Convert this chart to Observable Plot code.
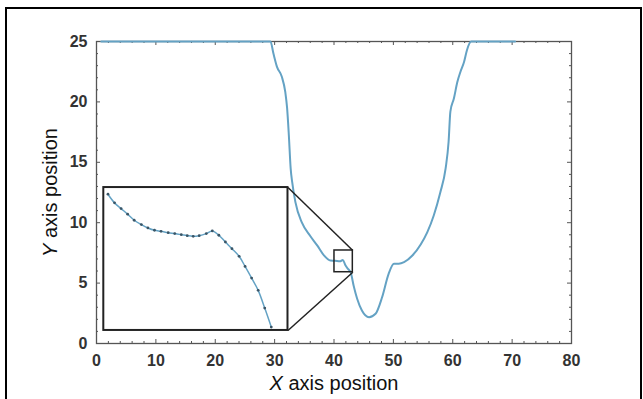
<!DOCTYPE html>
<html>
<head>
<meta charset="utf-8">
<script src="https://cdn.jsdelivr.net/npm/d3@7"></script>
<script src="https://cdn.jsdelivr.net/npm/@observablehq/plot@0.6"></script>
<style>
  html, body { margin: 0; padding: 0; background: #fff; }
  #wrap { position: relative; width: 643px; height: 399px; overflow: hidden; }
  #border { position: absolute; left: 5px; top: 7px; width: 633px; height: 400px;
            border: 2px solid #000; border-bottom: none; pointer-events: none; }
</style>
</head>
<body>
<div id="wrap"><div id="border"></div></div>
<script>
// Main profile (x position, y position)
const mainX = [0.8, 10, 20, 29.3, 29.8, 30.4, 31.2, 31.8, 32.1, 32.4, 32.7, 32.96, 33.5, 34.6, 36.0, 37.2, 38.3, 39.4, 40.2, 41.0, 41.5, 41.9, 42.4, 42.8, 43.3, 43.9, 44.7, 45.9, 47.0, 48.1, 49.2, 50.1, 50.9, 51.8, 53.2, 54.6, 55.7, 56.8, 57.9, 58.8, 59.3, 59.6, 60.2, 60.75, 61.3, 61.9, 62.4, 63.1, 66, 70.5];
const mainY = [25, 25, 25, 25, 24.0, 22.9, 22.1, 20.8, 19.5, 17.2, 14.5, 13.35, 11.7, 10.0, 8.9, 8.1, 7.3, 6.87, 6.85, 6.8, 6.92, 6.5, 6.15, 5.9, 4.8, 3.7, 2.73, 2.18, 2.46, 3.83, 5.77, 6.6, 6.6, 6.73, 7.28, 8.2, 9.2, 10.6, 12.5, 14.5, 16.7, 19.2, 20.3, 21.6, 22.5, 23.3, 24.3, 25, 25, 25];

// Zoomed detail (sampled points inside the small box)
const insetX = [40.15, 40.26, 40.37, 40.48, 40.59, 40.71, 40.82, 40.93, 41.04, 41.16, 41.27, 41.38, 41.48, 41.58, 41.68, 41.80, 41.90, 42.01, 42.12, 42.23, 42.35, 42.45, 42.56, 42.67, 42.78, 42.89];
const insetY = [7.616, 7.507, 7.435, 7.364, 7.288, 7.233, 7.191, 7.162, 7.149, 7.132, 7.120, 7.107, 7.094, 7.086, 7.094, 7.120, 7.153, 7.099, 7.014, 6.930, 6.834, 6.707, 6.560, 6.405, 6.182, 5.942];

// Small zoom box and the enlarged frame (data units)
const zoomBox = {x1: 40.08, x2: 43.17, y1: 5.9, y2: 7.7};
const insetFrame = {x1: 1.23, x2: 32.25, y1: 1.08, y2: 12.91};

// Ticks
const xTickLabels = [0, 10, 20, 30, 40, 50, 60, 70, 80];
const yTickLabels = [0, 5, 10, 15, 20, 25];
const xMinor = d3.range(0, 81, 2).filter(d => d % 10 !== 0);
const yMinor = d3.range(0, 26, 1).filter(d => d % 5 !== 0);

const xLabel = "X axis position";
const yLabel = "Y axis position";

const main = mainX.map((x, i) => ({x, y: mainY[i]}));
const sx = d3.scaleLinear([zoomBox.x1, zoomBox.x2], [insetFrame.x1, insetFrame.x2]);
const sy = d3.scaleLinear([zoomBox.y1, zoomBox.y2], [insetFrame.y1, insetFrame.y2]);
const inset = insetX.map((x, i) => ({x: sx(x), y: sy(insetY[i])}));

const kx = 80 / (571 - 96), ky = 25 / (343 - 41);
const maj = 4, mnr = 2;
const lineColor = "#64a2c4";
const tickColor = "#555";

const chart = Plot.plot({
  width: 643,
  height: 399,
  marginLeft: 96,
  marginRight: 72,
  marginTop: 41,
  marginBottom: 56,
  style: {fontFamily: "'Liberation Sans', Arial, sans-serif", color: "#333", background: "transparent"},
  x: {domain: [0, 80]},
  y: {domain: [0, 25]},
  marks: [
    // tick marks (inward, all four sides)
    Plot.ruleX(xTickLabels, {x: d => d, y1: 0, y2: maj * ky, stroke: tickColor}),
    Plot.ruleX(xMinor, {x: d => d, y1: 0, y2: mnr * ky, stroke: tickColor}),
    Plot.ruleX(xTickLabels, {x: d => d, y1: 25 - maj * ky, y2: 25, stroke: tickColor}),
    Plot.ruleX(xMinor, {x: d => d, y1: 25 - mnr * ky, y2: 25, stroke: tickColor}),
    Plot.ruleY(yTickLabels, {y: d => d, x1: 0, x2: maj * kx, stroke: tickColor}),
    Plot.ruleY(yMinor, {y: d => d, x1: 0, x2: mnr * kx, stroke: tickColor}),
    Plot.ruleY(yTickLabels, {y: d => d, x1: 80 - maj * kx, x2: 80, stroke: tickColor}),
    Plot.ruleY(yMinor, {y: d => d, x1: 80 - mnr * kx, x2: 80, stroke: tickColor}),
    Plot.axisX(xTickLabels, {tickSize: 0, tickPadding: 11, fontSize: 16, fontWeight: "bold", label: null}),
    Plot.axisY(yTickLabels, {tickSize: 0, tickPadding: 9, fontSize: 16, fontWeight: "bold", label: null}),
    Plot.frame({stroke: "#555", strokeWidth: 1.3}),
    // main curve
    Plot.line(main, {x: "x", y: "y", stroke: lineColor, strokeWidth: 2, curve: "monotone-x"}),
    // zoom box and connectors
    Plot.rect([zoomBox], {x1: "x1", x2: "x2", y1: "y1", y2: "y2", fill: "none", stroke: "#222", strokeWidth: 1.5}),
    Plot.link([zoomBox], {x1: () => insetFrame.x2, y1: () => insetFrame.y2, x2: "x2", y2: "y2", stroke: "#222", strokeWidth: 1.5}),
    Plot.link([zoomBox], {x1: () => insetFrame.x2, y1: () => insetFrame.y1, x2: "x2", y2: "y1", stroke: "#222", strokeWidth: 1.5}),
    Plot.rect([insetFrame], {x1: "x1", x2: "x2", y1: "y1", y2: "y2", fill: "white", stroke: "#222", strokeWidth: 2}),
    Plot.line(inset, {x: "x", y: "y", stroke: lineColor, strokeWidth: 1.5, curve: "catmull-rom"}),
    Plot.dot(inset, {x: "x", y: "y", r: 1.4, fill: "#3a5566", stroke: "none"}),
    // axis titles
    Plot.text([xLabel], {text: d => d, frameAnchor: "bottom", dy: 46, fontSize: 20, fill: "#111"}),
    Plot.text([yLabel], {text: d => d, frameAnchor: "left", textAnchor: "middle", dx: -46, rotate: -90, fontSize: 20, fill: "#111"})
  ]
});

// italicize the leading axis letter
d3.select(chart).selectAll("text").each(function () {
  const t = this.textContent;
  if (t === xLabel || t === yLabel) {
    const el = d3.select(this);
    const rest = t.slice(1);
    el.text(null);
    el.append("tspan").attr("font-style", "italic").text(t[0]);
    el.append("tspan").text(rest);
  }
});

chart.style.position = "absolute";
chart.style.left = "0px";
chart.style.top = "0px";
document.getElementById("wrap").prepend(chart);
</script>
</body>
</html>
